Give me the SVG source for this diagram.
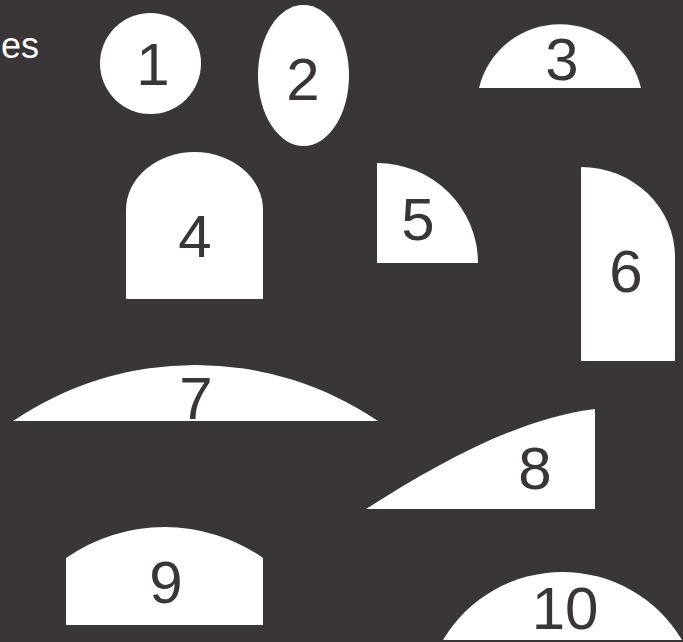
<svg xmlns="http://www.w3.org/2000/svg" width="683" height="642" viewBox="0 0 683 642">
<style>
.s{fill:#ffffff;stroke:none}
.n{font-family:"Liberation Sans",Arial,sans-serif;font-size:60px;fill:#3a3638;text-anchor:middle}
.t{font-family:"Liberation Sans",Arial,sans-serif;font-size:36px;fill:#ffffff;text-anchor:end}
</style>
<rect x="0" y="0" width="683" height="642" fill="#3a3638"/>
<text class="t" x="39" y="58">es</text>
<g id="shape1"><circle class="s" cx="150.5" cy="63.5" r="50.5"/><text class="n" x="153" y="85">1</text></g>
<g id="shape2"><ellipse class="s" cx="303.5" cy="75.5" rx="45.5" ry="70.5"/><text class="n" x="303" y="100">2</text></g>
<g id="shape3"><path class="s" d="M479,88 A83.3,83.3 0 0 1 641,88 Z"/><text class="n" x="562" y="80">3</text></g>
<g id="shape4"><path class="s" d="M126,299 V210 A68.5,58 0 0 1 263,210 V299 Z"/><text class="n" x="195" y="257">4</text></g>
<g id="shape5"><path class="s" d="M377,163 A101,100 0 0 1 478,263 L377,263 Z"/><text class="n" x="418" y="240">5</text></g>
<g id="shape6"><path class="s" d="M581,167 A94,90 0 0 1 675,257 V361 H581 Z"/><text class="n" x="626" y="292">6</text></g>
<g id="shape7"><path class="s" d="M13,421 A325.4,325.4 0 0 1 378,421 Z"/><text class="n" x="196" y="419">7</text></g>
<g id="shape8"><path class="s" d="M366,509 C440,462 520,418 595,409 V509 Z"/><text class="n" x="535" y="489">8</text></g>
<g id="shape9"><path class="s" d="M66,625 V558 A172,172 0 0 1 263,558 V625 Z"/><text class="n" x="166" y="603">9</text></g>
<g id="shape10"><path class="s" d="M443,640 A139,139 0 0 1 682,640 Z"/><text class="n" x="565" y="629">10</text></g>
<g id="connectors"></g>
</svg>
